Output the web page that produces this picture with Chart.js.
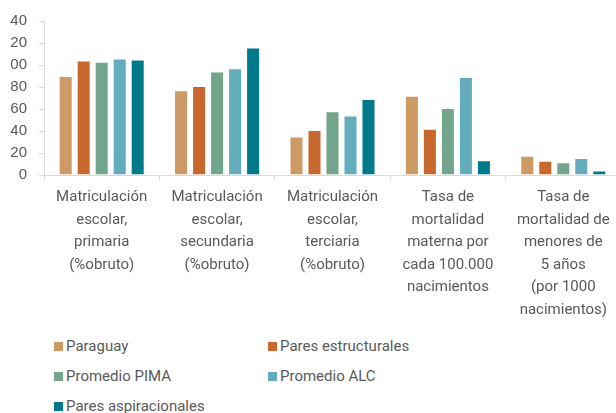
<!DOCTYPE html>
<html>
<head>
<meta charset="utf-8">
<script src="https://cdn.jsdelivr.net/npm/chart.js@4.4.1/dist/chart.umd.min.js"></script>
<style>
  html, body { margin: 0; padding: 0; background: #fff; width: 616px; height: 413px; overflow: hidden; }
  #wrap { position: absolute; left: 10px; top: 0; width: 606px; height: 330px; overflow: hidden; }
  #chart { position: absolute; left: -10px; top: 0; }
  #legend {
    position: absolute; left: 54px; top: 331px;
    display: grid; grid-template-columns: 214px 214px; grid-auto-rows: 30px;
    font-family: Roboto, sans-serif; font-size: 15px; color: #595959;
  }
  #legend div { display: flex; align-items: center; white-space: nowrap; }
  #legend span { display: inline-block; width: 9px; height: 9px; margin-right: 3px; }
</style>
</head>
<body>
<div id="wrap"><canvas id="chart" width="630" height="330"></canvas></div>
<div id="legend"></div>
<script>
// categories (multi-line labels)
const categories = [
  ["Matriculación", "escolar,", "primaria", "(%obruto)"],
  ["Matriculación", "escolar,", "secundaria", "(%obruto)"],
  ["Matriculación", "escolar,", "terciaria", "(%obruto)"],
  ["Tasa de", "mortalidad", "materna por", "cada 100.000", "nacimientos"],
  ["Tasa de", "mortalidad de", "menores de", "5 años", "(por 1000", "nacimientos)"]
];

// series
const seriesNames = ["Paraguay", "Pares estructurales", "Promedio PIMA", "Promedio ALC", "Pares aspiracionales"];
const paraguay = [90, 77, 35, 72, 17.5];
const paresEstructurales = [104, 81, 41, 42, 13];
const promedioPIMA = [103, 94, 58, 61, 11.5];
const promedioALC = [106, 97, 54, 89, 15.5];
const paresAspiracionales = [105, 116, 69, 13.5, 4];
const colors = ["#cd9a66", "#c9682e", "#72a58b", "#64adbd", "#007a8a"];

// y axis ticks
const yTicks = [0, 20, 40, 60, 80, 100, 120, 140];

const seriesValues = [paraguay, paresEstructurales, promedioPIMA, promedioALC, paresAspiracionales];

const datasets = seriesNames.map((name, i) => ({
  label: name,
  data: seriesValues[i],
  backgroundColor: colors[i],
  borderColor: "rgba(255,255,255,0.55)",
  borderWidth: 1,
  categoryPercentage: 0.78,
  barPercentage: 0.78
}));

const axisColor = "#d9d9d9";

new Chart(document.getElementById("chart"), {
  type: "bar",
  data: { labels: categories, datasets: datasets },
  options: {
    responsive: false,
    animation: false,
    layout: { padding: { top: 19, right: 9, bottom: 0, left: 0 } },
    plugins: { legend: { display: false }, tooltip: { enabled: false } },
    scales: {
      x: {
        grid: { drawOnChartArea: false, drawTicks: true, tickLength: 5, color: axisColor, offset: true },
        border: { display: true, color: axisColor },
        ticks: {
          color: "#595959",
          padding: 6,
          maxRotation: 0,
          autoSkip: false,
          font: { family: "Roboto", size: 15, lineHeight: 1.5 }
        },
        afterFit: scale => { scale.height = 155; }
      },
      y: {
        min: 0,
        max: 140,
        afterBuildTicks: scale => { scale.ticks = yTicks.map(v => ({ value: v })); },
        grid: { drawOnChartArea: false, drawTicks: true, tickLength: 5, color: axisColor },
        border: { display: true, color: axisColor },
        ticks: {
          color: "#595959",
          padding: 12,
          font: { family: "Liberation Sans", size: 15 }
        },
        afterFit: scale => { scale.width = 44; }
      }
    }
  }
});

// legend
const legend = document.getElementById("legend");
seriesNames.forEach((name, i) => {
  const item = document.createElement("div");
  item.innerHTML = `<span style="background:${colors[i]}"></span>${name}`;
  legend.appendChild(item);
});
</script>
</body>
</html>
